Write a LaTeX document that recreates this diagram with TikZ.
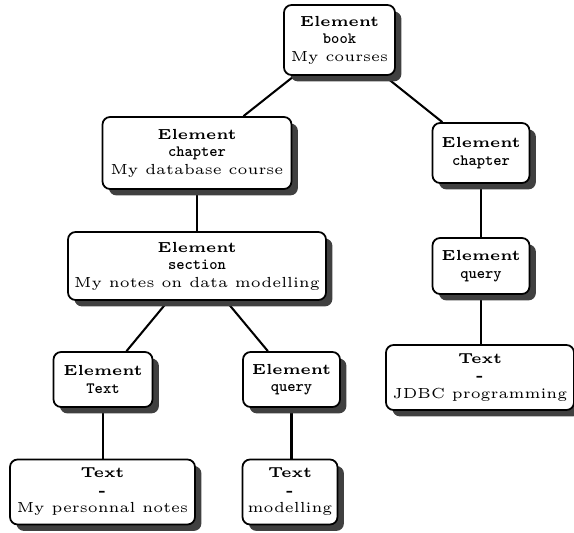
\documentclass[tikz,border=0pt]{standalone}
\usetikzlibrary{shadows}
\pgfdeclarelayer{background}
\pgfsetlayers{background,main}
\newcommand{\tag}[1]{{\fontsize{5.4}{6}\selectfont\ttfamily\bfseries #1}}
\begin{document}
\begin{tikzpicture}[x=0.3425pt,y=-0.3425pt,
  box/.style={draw=black, line width=0.6pt, fill=white, rounded corners=2.6pt,
    align=center, font=\tiny, inner sep=0pt,
    drop shadow={shadow xshift=2.2pt, shadow yshift=-2.2pt, fill=black!75, opacity=1},
    minimum width=#1*0.3425pt},
  link/.style={line width=0.7pt, black}]
\useasboundingbox (0,0) rectangle (574,533);

\node[box=111, minimum height=70*0.3425pt] (book) at (339.5,40)
  {\bfseries Element\\ \tag{book}\\ My courses};
\node[box=189, minimum height=72*0.3425pt] (ch1) at (197,153)
  {\bfseries Element\\ \tag{chapter}\\ My database course};
\node[box=97, minimum height=60*0.3425pt] (ch2) at (481,153)
  {\bfseries Element\\ \tag{chapter}};
\node[box=258, minimum height=68*0.3425pt] (sec) at (197,266)
  {\bfseries Element\\ \tag{section}\\ My notes on data modelling};
\node[box=97, minimum height=56*0.3425pt] (q2) at (481,266)
  {\bfseries Element\\ \tag{query}};
\node[box=99, minimum height=55*0.3425pt] (et) at (103,379.5)
  {\bfseries Element\\ \tag{Text}};
\node[box=97, minimum height=55*0.3425pt] (eq) at (291.5,379.5)
  {\bfseries Element\\ \tag{query}};
\node[box=188, minimum height=65*0.3425pt] (jdbc) at (480,377.5)
  {\bfseries Text\\ \bfseries -\\ JDBC programming};
\node[box=185, minimum height=65*0.3425pt] (notes) at (102.5,492)
  {\bfseries Text\\ \bfseries -\\ My personnal notes};
\node[box=95, minimum height=65*0.3425pt] (mod) at (290,492)
  {\bfseries Text\\ \bfseries -\\ modelling};

\begin{pgfonlayer}{background}
  \draw[link] (book) -- (ch1);
  \draw[link] (book) -- (ch2);
  \draw[link] (ch1.south) -- (ch1.south |- sec.north);
  \draw[link] (sec) -- (et);
  \draw[link] (sec) -- (eq);
  \draw[link] (ch2.south) -- (ch2.south |- q2.north);
  \draw[link] (q2.south) -- (q2.south |- jdbc.north);
  \draw[link] (et.south) -- (et.south |- notes.north);
  \draw[link] (eq.south) -- (eq.south |- mod.north);
\end{pgfonlayer}
\end{tikzpicture}
\end{document}
